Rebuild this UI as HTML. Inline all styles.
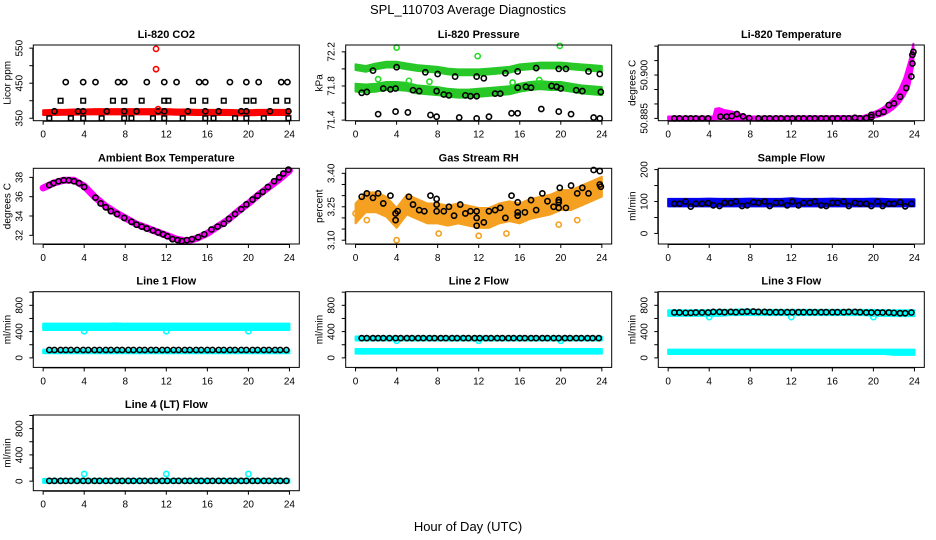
<!DOCTYPE html>
<html><head><meta charset="utf-8">
<style>
html,body{margin:0;padding:0;background:#fff;}
svg{display:block;font-family:"Liberation Sans",Arial,sans-serif;}
</style></head>
<body>
<svg id="chart" width="936" height="540" viewBox="0 0 936 540" xmlns="http://www.w3.org/2000/svg">
<text x="468" y="14" text-anchor="middle" font-size="13">SPL_110703  Average Diagnostics</text>
<text x="468" y="531" text-anchor="middle" font-size="13">Hour of Day (UTC)</text>
</svg>
<script>
// ---------- shared data ----------
const hours = [0,1,2,3,4,5,6,7,8,9,10,11,12,13,14,15,16,17,18,19,20,21,22,23,24];
const xTicks = [0,4,8,12,16,20,24];
const ptTimes = [0.6,1.1,1.7,2.2,2.7,3.3,3.9,4.4,5.0,5.5,6.1,6.6,7.2,7.7,8.3,8.8,9.4,9.9,10.5,11.0,11.6,12.1,12.7,13.2,13.8,14.3,14.9,15.4,16.0,16.5,17.1,17.6,18.2,18.7,19.3,19.8,20.4,20.9,21.5,22.0,22.6,23.1,23.7];

// CO2
const co2BandLo = [362,362,363,363,364,364,364,364,364,364,364,364,364,363,363,362,362,362,362,361,361,362,362,362,362];
const co2BandHi = [370,371,371,372,372,373,373,373,373,373,373,373,373,372,372,371,371,371,371,370,370,371,371,371,371];
const co2CircT = [1.1,3.4,3.9,6.2,7.9,9.1,11.2,11.8,14.1,15.8,17.1,19.3,19.8,22.1,23.9,2.2,3.9,5.1,7.3,7.9,10.1,11.8,13.0,15.2,15.8,18.2,19.8,21.0,23.2,23.8];
const co2CircV = [370,370,370,370,370,370,370,370,370,370,370,370,370,370,370,453,453,453,453,453,453,453,453,453,453,453,453,453,453,453];
const co2SqT = [1.7,3.9,6.8,7.9,9.6,11.8,12.2,14.6,15.8,17.6,19.8,20.5,22.7,23.8,0.6,2.7,3.9,5.7,7.9,8.6,10.7,11.8,13.6,15.8,16.6,18.7,19.8,21.5,23.9];
const co2SqV = [400,400,400,400,400,400,400,400,400,400,400,400,400,400,350,350,350,350,350,350,350,350,350,350,350,350,350,350,350];
const co2OutT = [11.0,11.0,11.2];
const co2OutV = [548,490,376];

// Pressure
const presUpC = [72.02,72.00,72.03,72.05,72.05,72.03,72.01,72.00,71.99,71.97,71.96,71.96,71.96,71.97,71.98,71.99,72.02,72.03,72.04,72.04,72.04,72.03,72.02,72.01,72.00];
const presLoC = [71.78,71.77,71.78,71.80,71.80,71.79,71.76,71.75,71.74,71.72,71.71,71.71,71.72,71.73,71.74,71.75,71.78,71.80,71.81,71.80,71.80,71.78,71.76,71.75,71.74];
const presPtT = [1.7,4.0,6.8,8.0,9.7,11.8,12.5,14.6,15.8,17.6,19.8,20.5,22.7,23.8,0.6,1.1,2.7,3.4,3.9,5.6,6.2,7.9,8.6,9.1,10.7,11.2,11.8,13.6,14.1,15.8,16.6,17.1,19.1,19.6,20.0,21.5,22.1,23.9,2.2,3.9,5.1,7.3,7.9,10.1,11.8,13.0,15.2,15.8,18.1,19.8,21.0,23.2,23.8];
const presPtV = [71.98,72.02,71.96,71.94,71.91,71.91,71.89,71.95,71.97,72.01,72.00,72.00,71.97,71.94,71.72,71.73,71.77,71.76,71.77,71.75,71.74,71.74,71.70,71.69,71.69,71.68,71.68,71.71,71.71,71.78,71.79,71.78,71.80,71.79,71.77,71.75,71.74,71.73,71.47,71.50,71.49,71.46,71.44,71.43,71.42,71.44,71.48,71.48,71.53,71.50,71.47,71.43,71.42];
const presOutT = [4.0,11.9,19.9,2.2,7.2,17.9,5.2,15.3];
const presOutV = [72.25,72.15,72.27,71.88,71.85,71.87,71.86,71.84];

// Li-820 temperature
const tmpBandT = [0,4.4,4.6,5,5.5,6,6.5,7,7.5,8,19,19.5,20,20.5,21,21.5,22,22.5,23,23.5,23.9];
const tmpBandLo = [50.8847,50.8847,50.8850,50.8852,50.8852,50.8850,50.8850,50.8850,50.8848,50.8847,50.8847,50.8850,50.8855,50.8860,50.8865,50.8875,50.8888,50.8905,50.8930,50.8965,50.9040];
const tmpBandHi = [50.8853,50.8853,50.8880,50.8882,50.8875,50.8872,50.8868,50.8862,50.8856,50.8853,50.8855,50.8860,50.8868,50.8875,50.8885,50.8900,50.8918,50.8945,50.8985,50.9045,50.9105];
const tmpPtT = [0.6,1.1,1.7,2.2,2.7,3.3,3.9,5.1,5.7,6.2,6.7,7.3,7.9,8.8,9.4,9.9,10.5,11.0,11.6,12.1,12.7,13.2,13.8,14.3,14.9,15.4,16.0,16.5,17.1,17.6,18.2,18.7,19.3,19.8,19.8,20.5,21.0,21.5,22.0,22.6,23.2,23.7,23.8,23.8,23.9];
const tmpPtV = [50.8850,50.8850,50.8850,50.8850,50.8850,50.8850,50.8850,50.8856,50.8856,50.8858,50.8865,50.8857,50.8851,50.8850,50.8850,50.8850,50.8850,50.8850,50.8850,50.8850,50.8850,50.8850,50.8850,50.8850,50.8850,50.8850,50.8850,50.8850,50.8850,50.8850,50.8852,50.8850,50.8851,50.8854,50.8862,50.8867,50.8873,50.8896,50.8902,50.8925,50.8955,50.8995,50.9040,50.9070,50.9080];

// Ambient box temperature
const ambBand = [36.9,37.4,37.7,37.7,37.1,36.0,35.1,34.4,33.8,33.2,32.8,32.4,32.0,31.6,31.4,31.7,32.2,32.9,33.6,34.5,35.3,36.2,37.0,37.8,38.7];
const ambPtT = [0.6,1.0,1.5,2.0,2.5,3.0,3.5,4.0,5.1,5.6,6.1,6.6,7.2,7.9,8.6,9.1,9.6,10.1,10.7,11.2,11.7,12.1,12.6,13.1,13.5,14.0,14.5,15.1,15.7,16.4,17.0,17.6,18.1,18.7,19.3,19.8,20.4,20.9,21.4,21.9,22.5,23.0,23.4,23.9];
const ambPtV = [37.2,37.4,37.6,37.7,37.7,37.6,37.4,37.0,35.9,35.3,34.9,34.5,34.2,33.8,33.4,33.1,32.9,32.7,32.5,32.3,32.1,31.9,31.6,31.5,31.4,31.5,31.6,31.8,32.1,32.6,32.9,33.2,33.7,34.2,34.7,35.2,35.7,36.1,36.5,37.0,37.6,38.0,38.4,38.8];

// Gas stream RH
const rhBandC = [3.22,3.27,3.27,3.25,3.20,3.26,3.24,3.22,3.22,3.21,3.22,3.21,3.20,3.20,3.22,3.23,3.22,3.24,3.25,3.26,3.28,3.28,3.30,3.32,3.34];
const rhPtT = [0.6,1.1,1.7,2.2,2.7,3.4,3.9,3.9,4.1,5.2,5.6,6.2,6.7,7.3,7.9,7.9,7.9,8.6,9.1,9.6,10.2,10.7,11.2,11.8,11.8,11.8,12.5,13.0,13.6,14.1,14.6,15.2,15.8,15.8,15.8,16.5,17.1,17.6,18.2,18.7,19.3,19.8,19.8,19.8,19.9,20.5,21.0,21.6,22.1,22.7,23.2,23.8,23.8,23.9];
const rhPtV = [3.295,3.31,3.29,3.31,3.265,3.30,3.19,3.22,3.23,3.295,3.26,3.235,3.23,3.30,3.285,3.26,3.23,3.23,3.25,3.21,3.26,3.22,3.23,3.23,3.20,3.165,3.18,3.23,3.235,3.245,3.20,3.30,3.27,3.225,3.21,3.225,3.28,3.235,3.31,3.275,3.25,3.28,3.27,3.245,3.335,3.245,3.345,3.31,3.335,3.31,3.415,3.41,3.35,3.34];
const rhOutT = [4.0,12.0,14.7,0.0,1.1,8.1,19.8,21.6];
const rhOutV = [3.10,3.12,3.13,3.22,3.19,3.13,3.17,3.19];

// Sample flow
const sfBandLo = [88,88,88,88,88,88,88,88,88,88,88,88,88,88,88,88,88,88,88,88,88,88,88,88,88];
const sfBandHi = [105,105,105,105,106,105,105,105,106,105,105,105,107,105,105,105,106,105,105,105,106,105,104,104,104];
const sfPtV = [93,93,100,84,93,93,95,88,86,96,96,100,86,88,98,96,100,86,96,96,88,100,88,96,96,100,88,86,96,96,100,86,96,93,93,86,100,86,93,93,98,85,93];

// Line flows
const l1BandLo = [440,440,440,440,440,440,440,440,440,440,440,440,440,440,440,440,440,440,440,440,440,440,440,440,440];
const l1BandHi = [505,505,505,505,505,505,505,510,505,505,505,505,505,505,505,505,505,505,505,505,505,505,505,505,505];
const l1LowLo = [85,85,85,85,85,85,85,85,85,85,85,85,85,85,85,85,85,85,85,85,85,85,85,85,85];
const l1LowHi = [110,110,110,110,110,110,110,110,110,110,110,110,110,110,110,110,110,110,110,110,110,110,110,110,110];
const l1PtV = [120,120,120,120,120,120,120,120,120,120,120,120,120,120,120,120,120,120,120,120,120,120,120,120,120,120,120,120,120,120,120,120,120,120,120,120,120,120,120,120,120,120,120];
const l1OutT = [4,12,20];
const l1OutV = [405,405,405];

const l2BandLo = [280,280,280,280,280,280,280,280,280,280,280,280,280,280,280,280,280,280,280,280,280,280,280,280,280];
const l2BandHi = [310,310,310,310,310,310,310,310,310,310,310,310,310,310,310,310,310,310,310,310,310,310,310,310,310];
const l2LowLo = [80,80,80,80,80,80,80,80,80,80,80,80,80,80,80,80,80,80,80,80,80,80,80,80,80];
const l2LowHi = [120,120,120,120,120,120,120,120,120,120,120,120,120,120,120,120,120,120,120,120,120,120,120,120,120];
const l2PtV = [300,300,300,300,300,300,300,300,300,300,300,300,300,300,300,300,300,300,300,300,300,300,300,300,300,300,300,300,300,300,300,300,300,300,300,300,300,300,300,300,300,300,300];
const l2OutT = [4,12,20];
const l2OutV = [260,260,260];

const l3BandLo = [655,655,655,655,655,655,665,665,665,665,665,665,665,665,665,665,665,665,665,665,655,655,650,650,650];
const l3BandHi = [710,710,710,710,710,715,715,720,720,715,715,715,715,715,715,715,715,715,715,715,715,710,710,710,710];
const l3LowLo = [75,75,75,75,75,75,75,75,75,75,75,75,75,75,75,75,75,75,75,75,75,75,60,60,60];
const l3LowHi = [110,110,110,110,110,110,110,110,110,110,110,110,110,110,110,110,110,110,110,110,110,110,110,110,110];
const l3PtV = [690,690,685,685,690,690,690,700,700,695,700,695,700,705,705,700,700,695,695,695,695,695,695,695,695,695,695,695,695,695,695,700,700,695,690,690,690,690,690,685,680,680,690];
const l3OutT = [4,12,20];
const l3OutV = [620,620,620];

const l4BandLo = [-10,-10,-10,-10,-10,-10,-10,-10,-10,-10,-10,-10,-10,-10,-10,-10,-10,-10,-10,-10,-10,-10,-10,-10,-10];
const l4BandHi = [20,20,20,20,20,20,20,20,20,20,20,20,20,20,20,20,20,20,20,20,20,20,20,20,20];
const l4PtV = [5,5,5,5,5,5,5,5,5,5,5,5,5,5,5,5,5,5,5,5,5,5,5,5,5,5,5,5,5,5,5,5,5,5,5,5,5,5,5,5,5,5,5];
const l4OutT = [4,12,20];
const l4OutV = [110,110,110];

// ---------- drawing ----------
const NS = "http://www.w3.org/2000/svg";
const svg = document.getElementById("chart");
const colL = [33.3, 345.7, 658.3], PW = 266;
const rowT = [45, 168.3, 291.7, 415], PH = 75.7;

function mk(tag, attrs, parent) {
  const e = document.createElementNS(NS, tag);
  for (const k in attrs) e.setAttribute(k, attrs[k]);
  (parent || svg).appendChild(e);
  return e;
}

function panel(cfg) {
  const g = mk("g", {});
  
  
  const L = colL[cfg.col], T = rowT[cfg.row];
  const xs = t => L + (t + 0.96) / 25.92 * PW;
  const ys = v => T + PH - (v - cfg.ymin) / (cfg.ymax - cfg.ymin) * PH;
  const data = mk("g", {}, g);
  
  
  cfg.draw(data, xs, ys);
  const box = mk("rect", {x: L, y: T, width: PW, height: PH, fill: "none", stroke: "#000", "stroke-width": 1}, g);
  
  
  const xa = mk("g", {}, g);
  
  
  const by = T + PH;
  mk("line", {x1: xs(xTicks[0]), x2: xs(xTicks[xTicks.length - 1]), y1: by + 0.5, y2: by + 0.5, stroke: "#000"}, xa);
  xTicks.forEach(t => {
    mk("line", {x1: xs(t), x2: xs(t), y1: by, y2: by + 4, stroke: "#000"}, xa);
    const tx = mk("text", {x: xs(t), y: by + 17, "text-anchor": "middle", "font-size": 10}, xa);
    tx.textContent = t;
  });
  const ya = mk("g", {}, g);
  
  
  mk("line", {x1: L - 0.5, x2: L - 0.5, y1: ys(cfg.yticks[0]), y2: ys(cfg.yticks[cfg.yticks.length - 1]), stroke: "#000"}, ya);
  cfg.yticks.forEach(v => mk("line", {x1: L - 4, x2: L, y1: ys(v), y2: ys(v), stroke: "#000"}, ya));
  cfg.ylabels.forEach((v, i) => {
    const yy = ys(v);
    const tx = mk("text", {x: L - 11, y: yy, "text-anchor": "middle", "font-size": 10, transform: `rotate(-90 ${L - 11} ${yy})`}, ya);
    tx.textContent = cfg.ylabelText[i];
  });
  const yl = mk("text", {x: L - 23, y: T + PH / 2, "text-anchor": "middle", "font-size": 10, transform: `rotate(-90 ${L - 23} ${T + PH / 2})`}, g);
  yl.textContent = cfg.ylab;
  
  
  const ti = mk("text", {x: L + PW / 2, y: T - 7, "text-anchor": "middle", "font-size": 11, "font-weight": "bold"}, g);
  ti.textContent = cfg.title;
  
  
}

function band(p, tArr, lo, hi, xs, ys, color, nm) {
  let d = "M";
  tArr.forEach((t, i) => d += `${xs(t)},${ys(hi[i]) - 1} L`);
  for (let i = tArr.length - 1; i >= 0; i--) d += `${xs(tArr[i])},${ys(lo[i]) + 1}${i ? " L" : ""}`;
  const e = mk("path", {d: d + " Z", fill: color, stroke: color, "stroke-width": 2, "stroke-linejoin": "round"}, p);
  
  
}
function pts(p, tArr, vArr, xs, ys, color, nm, shape) {
  tArr.forEach((t, i) => {
    let e;
    if (shape === "sq") e = mk("rect", {x: xs(t) - 2.3, y: ys(vArr[i]) - 2.3, width: 4.6, height: 4.6, fill: "none", stroke: color, "stroke-width": 1.5}, p);
    else e = mk("circle", {cx: xs(t), cy: ys(vArr[i]), r: 2.6, fill: "none", stroke: color, "stroke-width": 1.6}, p);
    
    
  });
}
function line(p, tArr, vArr, xs, ys, color, w, nm) {
  const e = mk("polyline", {points: tArr.map((t, i) => `${xs(t)},${ys(vArr[i])}`).join(" "), fill: "none", stroke: color, "stroke-width": w, "stroke-linejoin": "round", "stroke-linecap": "round"}, p);
  
  
}
const off = (a, d) => a.map(v => v + d);

const flowTicks = [0,200,400,600,800,1000], flowLabels = [0,400,800], flowText = ["0","400","800"];

panel({name: "co2-panel", col: 0, row: 0, title: "Li-820 CO2", ylab: "Licor ppm", ymin: 343, ymax: 559,
  yticks: [350,400,450,500,550], ylabels: [350,450,550], ylabelText: ["350","450","550"],
  draw: (p, xs, ys) => {
    band(p, hours, co2BandLo, co2BandHi, xs, ys, "#ff0000", "co2-band");
    pts(p, co2CircT, co2CircV, xs, ys, "#000", "co2-point");
    pts(p, co2SqT, co2SqV, xs, ys, "#000", "co2-point", "sq");
    pts(p, co2OutT, co2OutV, xs, ys, "#ff0000", "co2-outlier");
  }});
panel({name: "pressure-panel", col: 1, row: 0, title: "Li-820 Pressure", ylab: "kPa", ymin: 71.393, ymax: 72.28,
  yticks: [71.4,71.6,71.8,72.0,72.2], ylabels: [71.4,71.8,72.2], ylabelText: ["71.4","71.8","72.2"],
  draw: (p, xs, ys) => {
    band(p, hours, off(presUpC, -0.022), off(presUpC, 0.022), xs, ys, "#28c828", "pressure-band-upper");
    band(p, hours, off(presLoC, -0.035), off(presLoC, 0.035), xs, ys, "#28c828", "pressure-band-lower");
    pts(p, presOutT, presOutV, xs, ys, "#22dd22", "pressure-outlier");
    pts(p, presPtT, presPtV, xs, ys, "#000", "pressure-point");
  }});
panel({name: "li820-temperature-panel", col: 2, row: 0, title: "Li-820 Temperature", ylab: "degrees C", ymin: 50.8842, ymax: 50.9104,
  yticks: [50.885,50.890,50.895,50.900,50.905,50.910], ylabels: [50.885,50.900], ylabelText: ["50.885","50.900"],
  draw: (p, xs, ys) => {
    band(p, tmpBandT, tmpBandLo, tmpBandHi, xs, ys, "#ff00ff", "temperature-band");
    pts(p, tmpPtT, tmpPtV, xs, ys, "#000", "temperature-point");
  }});
panel({name: "ambient-temperature-panel", col: 0, row: 1, title: "Ambient Box Temperature", ylab: "degrees C", ymin: 31.1, ymax: 38.94,
  yticks: [32,34,36,38], ylabels: [32,34,36,38], ylabelText: ["32","34","36","38"],
  draw: (p, xs, ys) => {
    line(p, hours, ambBand, xs, ys, "#ff00ff", 7, "ambient-band");
    pts(p, ambPtT, ambPtV, xs, ys, "#000", "ambient-point");
  }});
panel({name: "rh-panel", col: 1, row: 1, title: "Gas Stream RH", ylab: "percent", ymin: 3.083, ymax: 3.4225,
  yticks: [3.10,3.15,3.20,3.25,3.30,3.35,3.40], ylabels: [3.10,3.25,3.40], ylabelText: ["3.10","3.25","3.40"],
  draw: (p, xs, ys) => {
    band(p, hours, off(rhBandC, -0.04), off(rhBandC, 0.04), xs, ys, "#f5a020", "rh-band");
    pts(p, rhOutT, rhOutV, xs, ys, "#f5a020", "rh-outlier");
    pts(p, rhPtT, rhPtV, xs, ys, "#000", "rh-point");
  }});
panel({name: "sample-flow-panel", col: 2, row: 1, title: "Sample Flow", ylab: "ml/min", ymin: -33, ymax: 204,
  yticks: [0,50,100,150,200], ylabels: [0,100,200], ylabelText: ["0","100","200"],
  draw: (p, xs, ys) => {
    band(p, hours, sfBandLo, sfBandHi, xs, ys, "#0000ee", "sample-flow-band");
    pts(p, ptTimes, sfPtV, xs, ys, "#000", "sample-flow-point");
  }});
panel({name: "line1-flow-panel", col: 0, row: 2, title: "Line 1 Flow", ylab: "ml/min", ymin: -145, ymax: 1007,
  yticks: flowTicks, ylabels: flowLabels, ylabelText: flowText,
  draw: (p, xs, ys) => {
    band(p, hours, l1BandLo, l1BandHi, xs, ys, "#00ffff", "line1-band-high");
    band(p, hours, l1LowLo, l1LowHi, xs, ys, "#00ffff", "line1-band-low");
    pts(p, l1OutT, l1OutV, xs, ys, "#00ffff", "line1-outlier");
    pts(p, ptTimes, l1PtV, xs, ys, "#000", "line1-point");
  }});
panel({name: "line2-flow-panel", col: 1, row: 2, title: "Line 2 Flow", ylab: "ml/min", ymin: -145, ymax: 1007,
  yticks: flowTicks, ylabels: flowLabels, ylabelText: flowText,
  draw: (p, xs, ys) => {
    band(p, hours, l2BandLo, l2BandHi, xs, ys, "#00ffff", "line2-band-high");
    band(p, hours, l2LowLo, l2LowHi, xs, ys, "#00ffff", "line2-band-low");
    pts(p, l2OutT, l2OutV, xs, ys, "#00ffff", "line2-outlier");
    pts(p, ptTimes, l2PtV, xs, ys, "#000", "line2-point");
  }});
panel({name: "line3-flow-panel", col: 2, row: 2, title: "Line 3 Flow", ylab: "ml/min", ymin: -145, ymax: 1007,
  yticks: flowTicks, ylabels: flowLabels, ylabelText: flowText,
  draw: (p, xs, ys) => {
    band(p, hours, l3BandLo, l3BandHi, xs, ys, "#00ffff", "line3-band-high");
    band(p, hours, l3LowLo, l3LowHi, xs, ys, "#00ffff", "line3-band-low");
    pts(p, l3OutT, l3OutV, xs, ys, "#00ffff", "line3-outlier");
    pts(p, ptTimes, l3PtV, xs, ys, "#000", "line3-point");
  }});
panel({name: "line4-flow-panel", col: 0, row: 3, title: "Line 4 (LT) Flow", ylab: "ml/min", ymin: -145, ymax: 1007,
  yticks: flowTicks, ylabels: flowLabels, ylabelText: flowText,
  draw: (p, xs, ys) => {
    band(p, hours, l4BandLo, l4BandHi, xs, ys, "#00ffff", "line4-band");
    pts(p, l4OutT, l4OutV, xs, ys, "#00ffff", "line4-outlier");
    pts(p, ptTimes, l4PtV, xs, ys, "#000", "line4-point");
  }});
</script>
</body></html>
